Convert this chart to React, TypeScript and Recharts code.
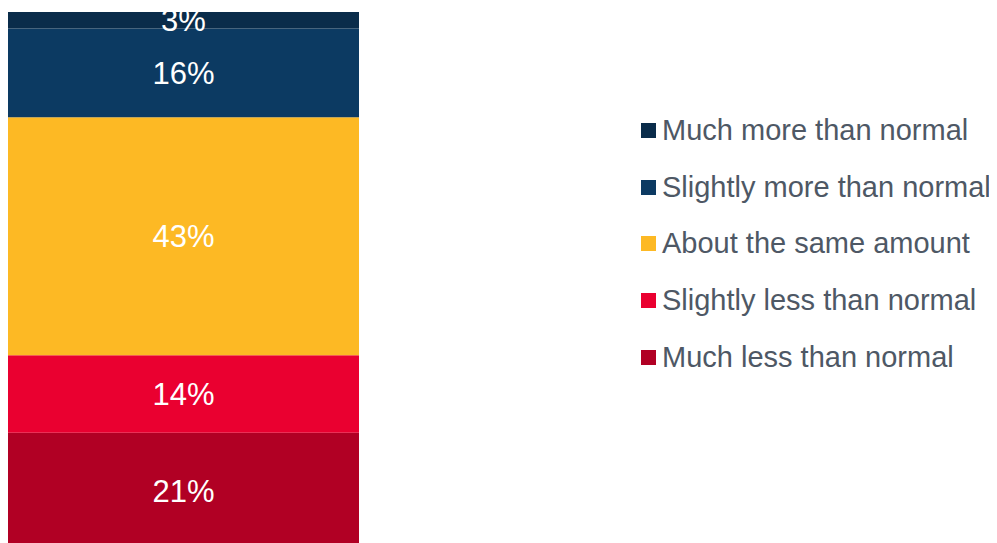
import React from 'react';
import { BarChart, Bar, XAxis, YAxis, Legend, LabelList } from 'recharts';

const categories = ['Response'];
const seriesNames = [
  'Much less than normal',
  'Slightly less than normal',
  'About the same amount',
  'Slightly more than normal',
  'Much more than normal',
];
const seriesValues = [21, 14, 43, 16, 3];
const seriesColors = ['#b10024', '#ea0030', '#fdb924', '#0c3a62', '#0a2c4a'];

const data = categories.map((c) => {
  const row: Record<string, string | number> = { name: c };
  seriesNames.forEach((s, i) => {
    row[s] = seriesValues[i];
  });
  return row;
});

const FONT = '"Liberation Sans", Arial, sans-serif';

// legend lists top segment first
const LegendContent = () => {
  const items = seriesNames.map((n, i) => ({ n, c: seriesColors[i] })).reverse();
  return (
    <div style={{ fontFamily: FONT }}>
      {items.map((it) => (
        <div key={it.n} style={{ display: 'flex', alignItems: 'center', height: 56.75 }}>
          <span style={{ width: 15, height: 15, background: it.c, marginRight: 6, flexShrink: 0 }} />
          <span style={{ fontSize: 29, color: '#4e5865', whiteSpace: 'nowrap' }}>{it.n}</span>
        </div>
      ))}
    </div>
  );
};

export default function App() {
  return (
    <div style={{ width: 989, height: 541 }}>
      <BarChart
        width={989}
        height={541}
        data={data}
        margin={{ top: 4, right: 638, left: 0, bottom: 0 }}
        barCategoryGap={0}
      >
        <XAxis dataKey="name" hide />
        <YAxis hide domain={[0, 97]} />
        <Legend
          layout="vertical"
          align="center"
          verticalAlign="middle"
          content={<LegendContent />}
          wrapperStyle={{ left: 633, top: 94, width: 356 }}
        />
        {seriesNames.map((s, i) => (
          <Bar key={s} dataKey={s} stackId="a" fill={seriesColors[i]} isAnimationActive={false}>
            <LabelList
              dataKey={s}
              position="center"
              formatter={(v: any) => `${v}%`}
              fill="#ffffff"
              style={{ fontSize: 31, fontFamily: FONT }}
            />
          </Bar>
        ))}
      </BarChart>
    </div>
  );
}
